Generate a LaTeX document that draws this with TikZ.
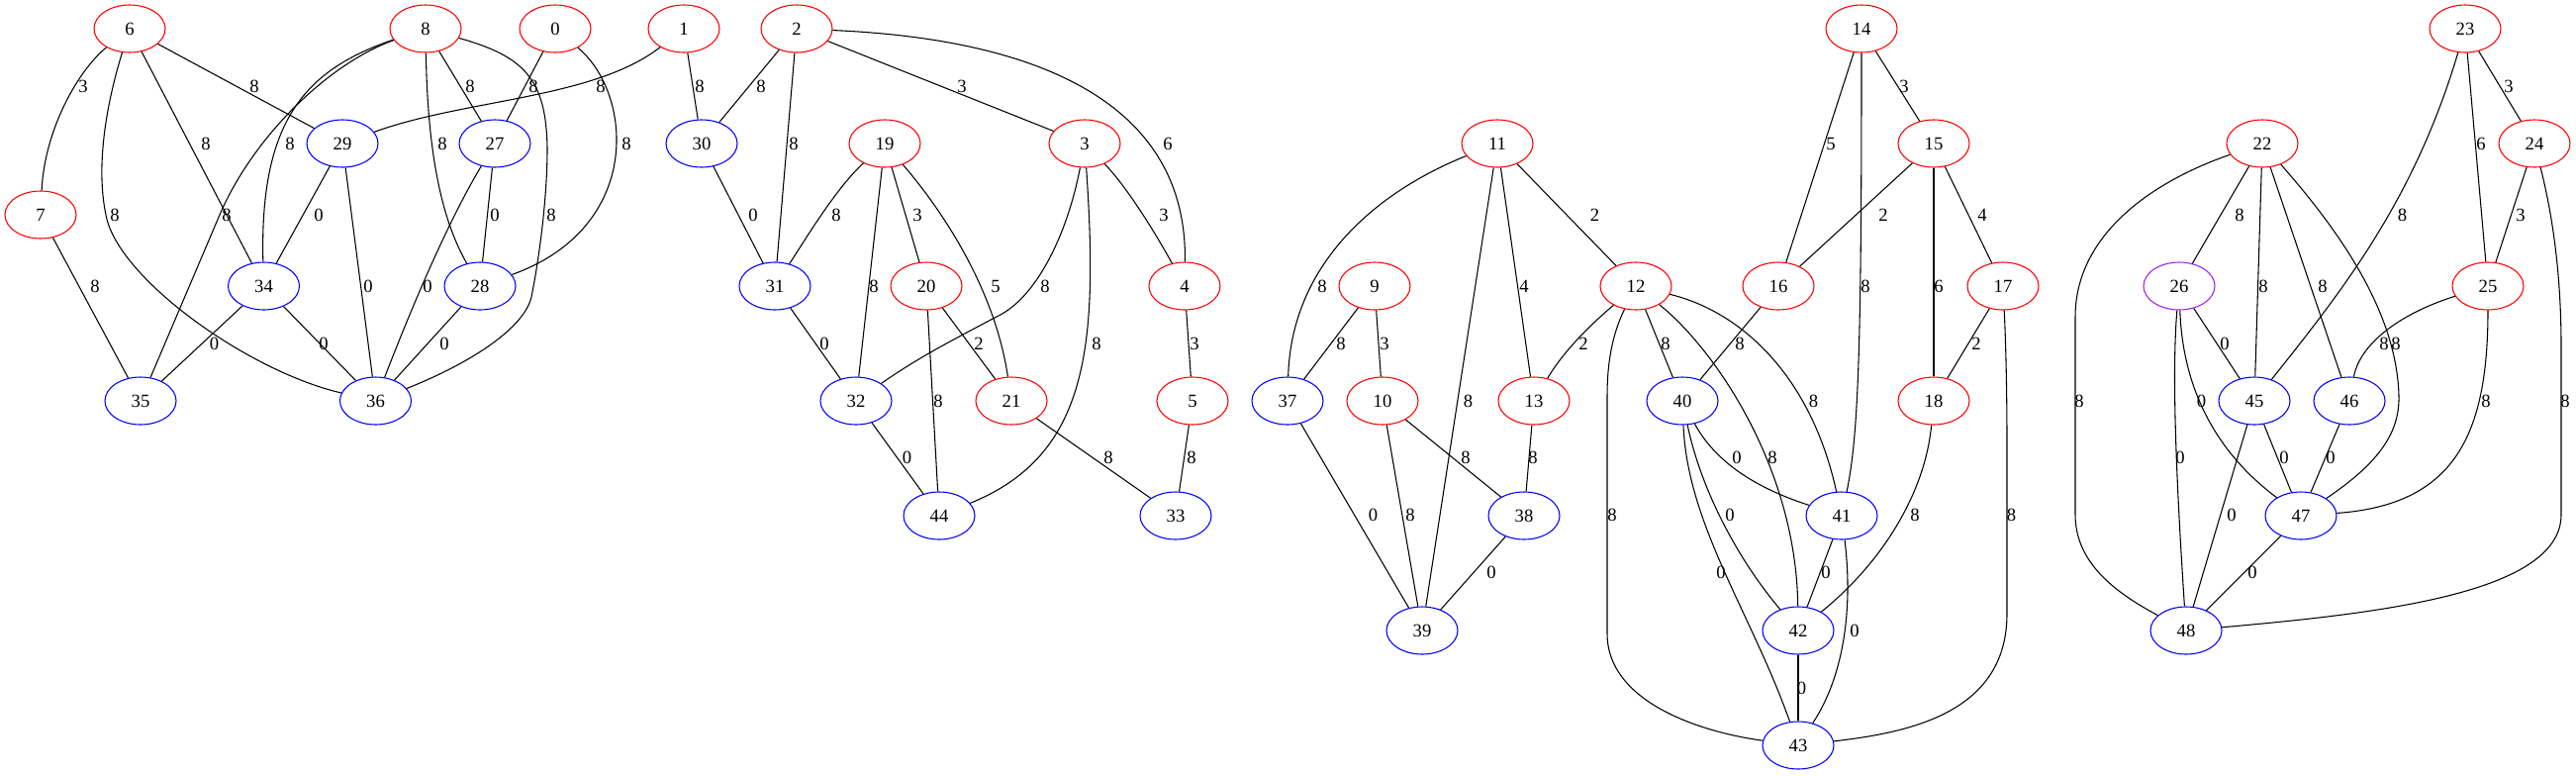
\documentclass[tikz,border=0pt]{standalone}
\usepackage{fontspec}
\setmainfont{Liberation Serif}
\usetikzlibrary{shapes.geometric}
\definecolor{gvred}{RGB}{255,0,0}
\definecolor{gvblue}{RGB}{0,0,255}
\definecolor{gvpurple}{RGB}{160,32,240}
\tikzset{
  nd/.style={ellipse, draw, minimum width=54pt, minimum height=36pt, inner sep=0pt, line width=0.8pt, font=\fontsize{14}{16}\selectfont},
  rn/.style={nd, draw=gvred},
  bn/.style={nd, draw=gvblue},
  pn/.style={nd, draw=gvpurple},
  lb/.style={inner sep=0pt, font=\fontsize{14}{16}\selectfont},
  ed/.style={line width=0.8pt, black}
}
\begin{document}
\begin{tikzpicture}[x=0.75pt,y=-0.75pt]
\path[use as bounding box] (0,0) rectangle (2603,783);
% nodes
\node[rn] (n6) at (131,29) {6};
\node[rn] (n8) at (430,29) {8};
\node[rn] (n0) at (561,29) {0};
\node[rn] (n1) at (691,29) {1};
\node[rn] (n2) at (805,29) {2};
\node[rn] (n14) at (1881,29) {14};
\node[rn] (n23) at (2491,29) {23};
\node[bn] (n29) at (346,145) {29};
\node[bn] (n27) at (500,145) {27};
\node[bn] (n30) at (709,145) {30};
\node[rn] (n19) at (894,145) {19};
\node[rn] (n3) at (1096,145) {3};
\node[rn] (n11) at (1513,145) {11};
\node[rn] (n15) at (1954,145) {15};
\node[rn] (n22) at (2286,145) {22};
\node[rn] (n24) at (2561,145) {24};
\node[rn] (n7) at (41,217) {7};
\node[bn] (n34) at (266.5,289) {34};
\node[bn] (n28) at (485,289) {28};
\node[bn] (n31) at (783,289) {31};
\node[rn] (n20) at (936,289) {20};
\node[rn] (n4) at (1197,289) {4};
\node[rn] (n9) at (1389,289) {9};
\node[rn] (n12) at (1653,289) {12};
\node[rn] (n16) at (1797,289) {16};
\node[rn] (n17) at (2024,289) {17};
\node[pn] (n26) at (2202,289) {26};
\node[rn] (n25) at (2514,289) {25};
\node[bn] (n35) at (142,405) {35};
\node[bn] (n36) at (379.5,405) {36};
\node[bn] (n32) at (865,405) {32};
\node[rn] (n21) at (1022,405) {21};
\node[rn] (n5) at (1205,405) {5};
\node[bn] (n37) at (1301,405) {37};
\node[rn] (n10) at (1397,405) {10};
\node[rn] (n13) at (1550,405) {13};
\node[bn] (n40) at (1700,405) {40};
\node[rn] (n18) at (1954,405) {18};
\node[bn] (n45) at (2278,405) {45};
\node[bn] (n46) at (2374,405) {46};
\node[bn] (n44) at (949,521) {44};
\node[bn] (n33) at (1188,521) {33};
\node[bn] (n38) at (1540,521) {38};
\node[bn] (n41) at (1861,521) {41};
\node[bn] (n47) at (2325,521) {47};
\node[bn] (n39) at (1437,637) {39};
\node[bn] (n42) at (1817,637) {42};
\node[bn] (n48) at (2209,637) {48};
\node[bn] (n43) at (1817,753) {43};
% component 1
\draw[ed] (n6) .. controls (80,70) and (45,130) .. (n7);
\draw[ed] (n6) -- (n29);
\draw[ed] (n6) -- (n34);
\draw[ed] (n6) .. controls (112,90) and (95,160) .. (107,217) .. controls (118,280) and (250,375) .. (n36);
\draw[ed] (n8) .. controls (330,65) and (255,140) .. (222,217) -- (n35);
\draw[ed] (n8) .. controls (310,70) and (262,120) .. (n34);
\draw[ed] (n8) -- (n27);
\draw[ed] (n8) .. controls (432,150) and (445,220) .. (n28);
\draw[ed] (n8) .. controls (530,57) and (552,80) .. (553,150) .. controls (553,200) and (545,260) .. (537,300) .. controls (530,330) and (480,365) .. (n36);
\draw[ed] (n0) -- (n27);
\draw[ed] (n0) .. controls (640,95) and (650,230) .. (n28);
\draw[ed] (n1) .. controls (600,100) and (470,100) .. (n29);
\draw[ed] (n29) -- (n34);
\draw[ed] (n29) -- (n36);
\draw[ed] (n27) -- (n28);
\draw[ed] (n27) .. controls (455,220) and (420,300) .. (n36);
\draw[ed] (n7) -- (n35);
\draw[ed] (n34) -- (n35);
\draw[ed] (n34) -- (n36);
\draw[ed] (n28) -- (n36);
\node[lb] (l1) at (84,87) {3};
\node[lb] (l2) at (257,87) {8};
\node[lb] (l3) at (208,145) {8};
\node[lb] (l4) at (116,217) {8};
\node[lb] (l5) at (229,217) {8};
\node[lb] (l6) at (293,145) {8};
\node[lb] (l7) at (475,87) {8};
\node[lb] (l8) at (447,145) {8};
\node[lb] (l9) at (557,217) {8};
\node[lb] (l10) at (539,87) {8};
\node[lb] (l11) at (633,145) {8};
\node[lb] (l12) at (607,87) {8};
\node[lb] (l13) at (322,217) {0};
\node[lb] (l14) at (372,289) {0};
\node[lb] (l15) at (500,217) {0};
\node[lb] (l16) at (432,289) {0};
\node[lb] (l17) at (96,289) {8};
\node[lb] (l18) at (216.5,347) {0};
\node[lb] (l19) at (327,347) {0};
\node[lb] (l20) at (449,347) {0};
% component 2
\draw[ed] (n1) -- (n30);
\draw[ed] (n2) -- (n30);
\draw[ed] (n2) -- (n31);
\draw[ed] (n2) -- (n3);
\draw[ed] (n2) .. controls (1060,40) and (1200,110) .. (n4);
\draw[ed] (n30) -- (n31);
\draw[ed] (n19) .. controls (845,190) and (815,240) .. (n31);
\draw[ed] (n19) -- (n32);
\draw[ed] (n19) -- (n20);
\draw[ed] (n19) .. controls (950,210) and (1005,290) .. (n21);
\draw[ed] (n3) .. controls (1080,230) and (1050,300) .. (1007,320) .. controls (960,345) and (930,360) .. (n32);
\draw[ed] (n3) .. controls (1140,190) and (1170,240) .. (n4);
\draw[ed] (n3) .. controls (1110,350) and (1100,460) .. (n44);
\draw[ed] (n4) -- (n5);
\draw[ed] (n20) -- (n21);
\draw[ed] (n20) -- (n44);
\draw[ed] (n31) -- (n32);
\draw[ed] (n32) -- (n44);
\draw[ed] (n21) -- (n33);
\draw[ed] (n5) -- (n33);
\node[lb] (l21) at (707,87) {8};
\node[lb] (l22) at (769,87) {8};
\node[lb] (l23) at (802,145) {8};
\node[lb] (l24) at (972,87) {3};
\node[lb] (l25) at (1180,145) {6};
\node[lb] (l26) at (761,217) {0};
\node[lb] (l27) at (845,217) {8};
\node[lb] (l28) at (883,289) {8};
\node[lb] (l29) at (927,217) {3};
\node[lb] (l30) at (1006,289) {5};
\node[lb] (l31) at (1056,289) {8};
\node[lb] (l32) at (1176,217) {3};
\node[lb] (l33) at (1108,347) {8};
\node[lb] (l34) at (1207,347) {3};
\node[lb] (l35) at (989,347) {2};
\node[lb] (l36) at (948,405) {8};
\node[lb] (l37) at (833,347) {0};
\node[lb] (l38) at (916.5,462) {0};
\node[lb] (l39) at (1120,462) {8};
\node[lb] (l40) at (1204,462) {8};
% component 3
\draw[ed] (n11) .. controls (1400,190) and (1305,260) .. (n37);
\draw[ed] (n11) -- (n39);
\draw[ed] (n11) -- (n13);
\draw[ed] (n11) -- (n12);
\draw[ed] (n9) -- (n37);
\draw[ed] (n9) -- (n10);
\draw[ed] (n37) -- (n39);
\draw[ed] (n10) -- (n39);
\draw[ed] (n10) -- (n38);
\draw[ed] (n13) -- (n38);
\draw[ed] (n38) -- (n39);
\draw[ed] (n12) .. controls (1605,330) and (1580,355) .. (n13);
\draw[ed] (n12) -- (n40);
\draw[ed] (n12) .. controls (1628,340) and (1624,370) .. (1624,400) -- (1624,640) .. controls (1624,710) and (1720,740) .. (n43);
\draw[ed] (n12) .. controls (1760,315) and (1830,380) .. (n41);
\draw[ed] (n12) .. controls (1730,350) and (1815,470) .. (n42);
\draw[ed] (n14) -- (n16);
\draw[ed] (n14) .. controls (1881,350) and (1878,440) .. (n41);
\draw[ed] (n14) -- (n15);
\draw[ed] (n15) -- (n16);
\draw[ed] (n15) -- (n18);
\draw[ed] (n15) -- (n17);
\draw[ed] (n16) -- (n40);
\draw[ed] (n17) -- (n18);
\draw[ed] (n17) .. controls (2027,350) and (2028,400) .. (2028,450) -- (2028,620) .. controls (2028,720) and (1930,740) .. (n43);
\draw[ed] (n18) .. controls (1945,500) and (1900,570) .. (n42);
\draw[ed] (n40) .. controls (1735,470) and (1780,495) .. (n41);
\draw[ed] (n40) .. controls (1720,500) and (1760,570) .. (n42);
\draw[ed] (n40) .. controls (1705,530) and (1770,620) .. (n43);
\draw[ed] (n41) -- (n42);
\draw[ed] (n41) .. controls (1872,610) and (1865,680) .. (n43);
\draw[ed] (n42) -- (n43);
\node[lb] (l41) at (1336,289) {8};
\node[lb] (l42) at (1483.5,405) {8};
\node[lb] (l43) at (1540,289) {4};
\node[lb] (l44) at (1611.6,217) {2};
\node[lb] (l45) at (1355,347) {8};
\node[lb] (l46) at (1399,347) {3};
\node[lb] (l47) at (1387.5,520) {0};
\node[lb] (l48) at (1425,520) {8};
\node[lb] (l49) at (1481,462) {8};
\node[lb] (l50) at (1549,462) {8};
\node[lb] (l51) at (1507,578) {0};
\node[lb] (l52) at (1600,347) {2};
\node[lb] (l53) at (1683,347) {8};
\node[lb] (l54) at (1629,520) {8};
\node[lb] (l55) at (1832.6,405) {8};
\node[lb] (l56) at (1791,462) {8};
\node[lb] (l57) at (1850,145) {5};
\node[lb] (l58) at (1885,289) {8};
\node[lb] (l59) at (1924,87) {3};
\node[lb] (l60) at (1903,217) {2};
\node[lb] (l61) at (1959,289) {6};
\node[lb] (l62) at (2003,217) {4};
\node[lb] (l63) at (1758,347) {8};
\node[lb] (l64) at (1997,347) {2};
\node[lb] (l65) at (2032.5,520) {8};
\node[lb] (l66) at (1935,520) {8};
\node[lb] (l67) at (1755,462) {0};
\node[lb] (l68) at (1748,520) {0};
\node[lb] (l69) at (1739,578) {0};
\node[lb] (l70) at (1845,578) {0};
\node[lb] (l71) at (1874,637) {0};
\node[lb] (l72) at (1820.5,695) {0};
% component 4
\draw[ed] (n23) -- (n24);
\draw[ed] (n23) -- (n25);
\draw[ed] (n23) .. controls (2440,200) and (2370,290) .. (n45);
\draw[ed] (n24) -- (n25);
\draw[ed] (n24) .. controls (2580,220) and (2588,280) .. (2588,350) -- (2588,520) .. controls (2588,600) and (2400,620) .. (n48);
\draw[ed] (n22) -- (n26);
\draw[ed] (n22) -- (n45);
\draw[ed] (n22) -- (n46);
\draw[ed] (n22) .. controls (2370,240) and (2422,320) .. (2424,400) .. controls (2425,440) and (2400,470) .. (n47);
\draw[ed] (n22) .. controls (2170,185) and (2097,240) .. (2097,320) -- (2097,520) .. controls (2097,570) and (2140,600) .. (n48);
\draw[ed] (n26) -- (n45);
\draw[ed] (n26) .. controls (2194,380) and (2200,500) .. (n48);
\draw[ed] (n26) .. controls (2205,380) and (2230,450) .. (n47);
\draw[ed] (n25) .. controls (2430,315) and (2385,345) .. (n46);
\draw[ed] (n25) .. controls (2514,440) and (2480,510) .. (n47);
\draw[ed] (n45) -- (n47);
\draw[ed] (n45) -- (n48);
\draw[ed] (n46) -- (n47);
\draw[ed] (n47) -- (n48);
\node[lb] (l73) at (2535,87) {3};
\node[lb] (l74) at (2507,145) {6};
\node[lb] (l75) at (2427.5,217) {8};
\node[lb] (l76) at (2547,217) {3};
\node[lb] (l77) at (2592,405) {8};
\node[lb] (l78) at (2263,217) {8};
\node[lb] (l79) at (2287,289) {8};
\node[lb] (l80) at (2347,289) {8};
\node[lb] (l81) at (2421,347) {8};
\node[lb] (l82) at (2101,405) {8};
\node[lb] (l83) at (2248,347) {0};
\node[lb] (l84) at (2203,462) {0};
\node[lb] (l85) at (2224.4,405) {0};
\node[lb] (l86) at (2409,347) {8};
\node[lb] (l87) at (2512,405) {8};
\node[lb] (l88) at (2308,462) {0};
\node[lb] (l89) at (2255,520) {0};
\node[lb] (l90) at (2355,462) {0};
\node[lb] (l91) at (2276,578) {0};
\end{tikzpicture}
\end{document}
